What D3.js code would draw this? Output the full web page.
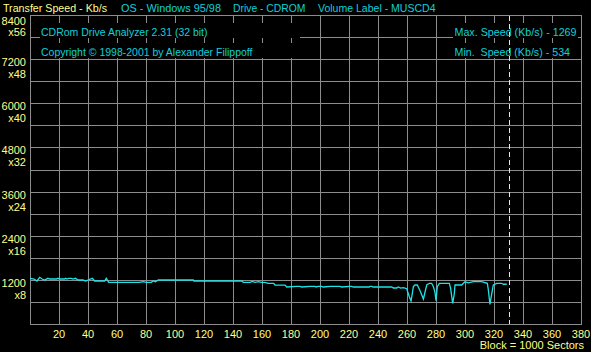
<!DOCTYPE html>
<html>
<head>
<meta charset="utf-8">
<script src="https://cdn.jsdelivr.net/npm/d3@7"></script>
<style>
  html, body { margin: 0; padding: 0; background: #000; }
  svg { display: block; }
  text { font-family: "Liberation Sans", Arial, sans-serif; font-size: 11px; }
</style>
</head>
<body>
<svg id="chart" width="591" height="352"></svg>
<script>
// ---- data ----
const blocks = [0, 2.8, 4.8, 6.7, 8.3, 10.1, 12.4, 13.6, 18.2, 19.3, 20.5, 23.9, 24.6, 25.5, 26.7, 28.5, 29.7, 31.3, 33.1, 36.6,
  38.2, 40, 41.6, 43, 44.6, 51.5, 52.6, 54.3, 75.6, 77.9, 80.2, 83.7, 84.8, 86.5, 88.5, 112.6, 113, 146, 147.1, 151.7,
  153.3, 155.2, 157.5, 159.5, 162, 164.4, 168, 169, 175.9, 177, 183.9, 186.2, 187.4, 193.1, 196.6, 197.2, 198.9, 201.1, 202.3, 206.9,
  213.8, 214.9, 220.7, 221.8, 223, 234, 234.5, 235.6, 236.7, 249.4, 250.6, 252.9, 254, 255.6, 257.5, 259.8, 261.6, 262.8, 264.4, 265.5,
  267.1, 269, 271.3, 273.6, 275.4, 277, 278.2, 279.3, 280, 280.9, 282.3, 289.2, 290.1, 291.5, 292.6, 293.1, 297.7, 298.9, 300, 302.3,
  305.7, 311.5, 315.4, 316.1, 317.2, 318.4, 319.5, 321.9, 325.3, 326.4, 328.8];
const speeds = [1242, 1223, 1169, 1269, 1223, 1196, 1242, 1223, 1223, 1242, 1223, 1223, 1242, 1223, 1242, 1242, 1223, 1242, 1196, 1196,
  1169, 1196, 1218, 1242, 1169, 1169, 1242, 1133, 1133, 1150, 1133, 1133, 1169, 1150, 1196, 1196, 1169, 1169, 1133, 1133,
  1160, 1133, 1150, 1133, 1133, 1106, 1106, 1060, 1055, 1006, 1024, 1024, 1006, 1024, 1024, 1006, 1024, 1024, 1006, 1024,
  1024, 1006, 1024, 1024, 1006, 1006, 1024, 1024, 1006, 1006, 978, 978, 1006, 975, 987, 960, 743, 625, 1015, 1060,
  1060, 906, 680, 1060, 1106, 1106, 1015, 860, 633, 1015, 1106, 1106, 970, 562, 815, 1060, 1060, 1106, 1150, 1120,
  1150, 1150, 1106, 925, 534, 815, 1060, 1106, 1106, 1080, 1080];
const xTicks = [20, 40, 60, 80, 100, 120, 140, 160, 180, 200, 220, 240, 260, 280, 300, 320, 340, 360, 380];
const yTicks = [1200, 2400, 3600, 4800, 6000, 7200, 8400];
const yTickMultipliers = ["x8", "x16", "x24", "x32", "x40", "x48", "x56"];
const yGrid = [600, 1200, 1800, 2400, 3000, 3600, 4200, 4800, 5400, 6000, 6600, 7200, 7800];
const endBlock = 330.5;
const headerItems = ["Transfer Speed - Kb/s", "OS - Windows 95/98", "Drive - CDROM", "Volume Label - MUSCD4"];
const infoLeft = ["CDRom Drive Analyzer 2.31 (32 bit)", "Copyright \u00A9 1998-2001 by Alexander Filippoff"];
const infoRight = ["Max. Speed (Kb/s) - 1269", "Min.  Speed (Kb/s) - 534"];
const xAxisTitle = "Block = 1000 Sectors";

// ---- drawing ----
const YELLOW = "#ffff88", CYAN = "#10d0d8", GRID = "#8c8c8c", LINE = "#1de4e8";
const svg = d3.select("#chart");
svg.append("rect").attr("width", 591).attr("height", 352).attr("fill", "#000");

const x = d3.scaleLinear().domain([0, 380]).range([30, 581]);
const y = d3.scaleLinear().domain([0, 8400]).range([324, 15]);

const g = svg.append("g").attr("shape-rendering", "crispEdges");
// vertical grid
g.selectAll("line.vg").data(xTicks).join("line")
  .attr("x1", d => Math.round(x(d)) + 0.5).attr("x2", d => Math.round(x(d)) + 0.5)
  .attr("y1", y(8400)).attr("y2", y(0))
  .attr("stroke", GRID).attr("stroke-width", 1);
// horizontal grid
g.selectAll("line.hg").data(yGrid).join("line")
  .attr("x1", x(0)).attr("x2", x(380))
  .attr("y1", d => Math.round(y(d)) + 0.5).attr("y2", d => Math.round(y(d)) + 0.5)
  .attr("stroke", GRID).attr("stroke-width", 1);
// frame
g.append("rect")
  .attr("x", x(0) + 0.5).attr("y", y(8400) + 0.5)
  .attr("width", x(380) - x(0)).attr("height", y(0) - y(8400))
  .attr("fill", "none").attr("stroke", GRID);

// info text boxes (black backgrounds hide the grid)
const boxes = [[40, 23, 260, 15], [40, 43, 260, 15], [453, 23, 125, 15], [453, 43, 125, 15]];
svg.selectAll("rect.box").data(boxes).join("rect")
  .attr("x", d => d[0]).attr("y", d => d[1]).attr("width", d => d[2]).attr("height", d => d[3])
  .attr("fill", "#000");

// data line
const line = d3.line().x(d => x(d[0])).y(d => y(d[1]));
svg.append("path")
  .datum(blocks.map((b, i) => [b, speeds[i]]))
  .attr("d", line)
  .attr("fill", "none").attr("stroke", LINE).attr("stroke-width", 1.3);

// end marker (dashed)
svg.append("line")
  .attr("x1", Math.round(x(endBlock)) + 0.5).attr("x2", Math.round(x(endBlock)) + 0.5)
  .attr("y1", y(8400) + 1).attr("y2", y(0))
  .attr("stroke", "#e8e8e8").attr("stroke-dasharray", "5,3").attr("shape-rendering", "crispEdges");

// x tick labels
svg.selectAll("text.xt").data(xTicks).join("text")
  .attr("x", d => x(d)).attr("y", 337.5).attr("text-anchor", "middle")
  .attr("fill", YELLOW).text(d => d);
svg.append("text").attr("x", 584).attr("y", 349).attr("text-anchor", "end")
  .attr("fill", YELLOW).text(xAxisTitle);

// y tick labels
yTicks.forEach((v, i) => {
  const gy = y(v);
  const top = v === 8400;
  svg.append("text").attr("x", 26).attr("y", top ? 25 : gy + 7).attr("text-anchor", "end")
    .attr("fill", YELLOW).text(v);
  svg.append("text").attr("x", 26).attr("y", top ? 35.5 : gy + 19).attr("text-anchor", "end")
    .attr("fill", YELLOW).text(yTickMultipliers[i]);
});

// header
const headerX = [3, 121, 233, 318];
const headerW = [104, 100, 72.5, 117.5];
headerItems.forEach((t, i) => {
  svg.append("text").attr("x", headerX[i]).attr("y", 11.5)
    .attr("fill", i === 0 ? YELLOW : CYAN)
    .attr("textLength", headerW[i]).attr("lengthAdjust", "spacingAndGlyphs")
    .text(t);
});

// info texts
const infoLeftW = [166.5, 211.5];
infoLeft.forEach((t, i) => {
  svg.append("text").attr("x", 41).attr("y", 35.5 + i * 20).attr("fill", CYAN)
    .attr("textLength", infoLeftW[i]).attr("lengthAdjust", "spacingAndGlyphs").text(t);
});
const infoRightW = [122, 115.5];
infoRight.forEach((t, i) => {
  svg.append("text").attr("x", 454.5).attr("y", 35.5 + i * 20).attr("fill", CYAN)
    .attr("xml:space", "preserve").style("white-space", "pre")
    .attr("textLength", infoRightW[i]).attr("lengthAdjust", "spacingAndGlyphs").text(t);
});
</script>
</body>
</html>
